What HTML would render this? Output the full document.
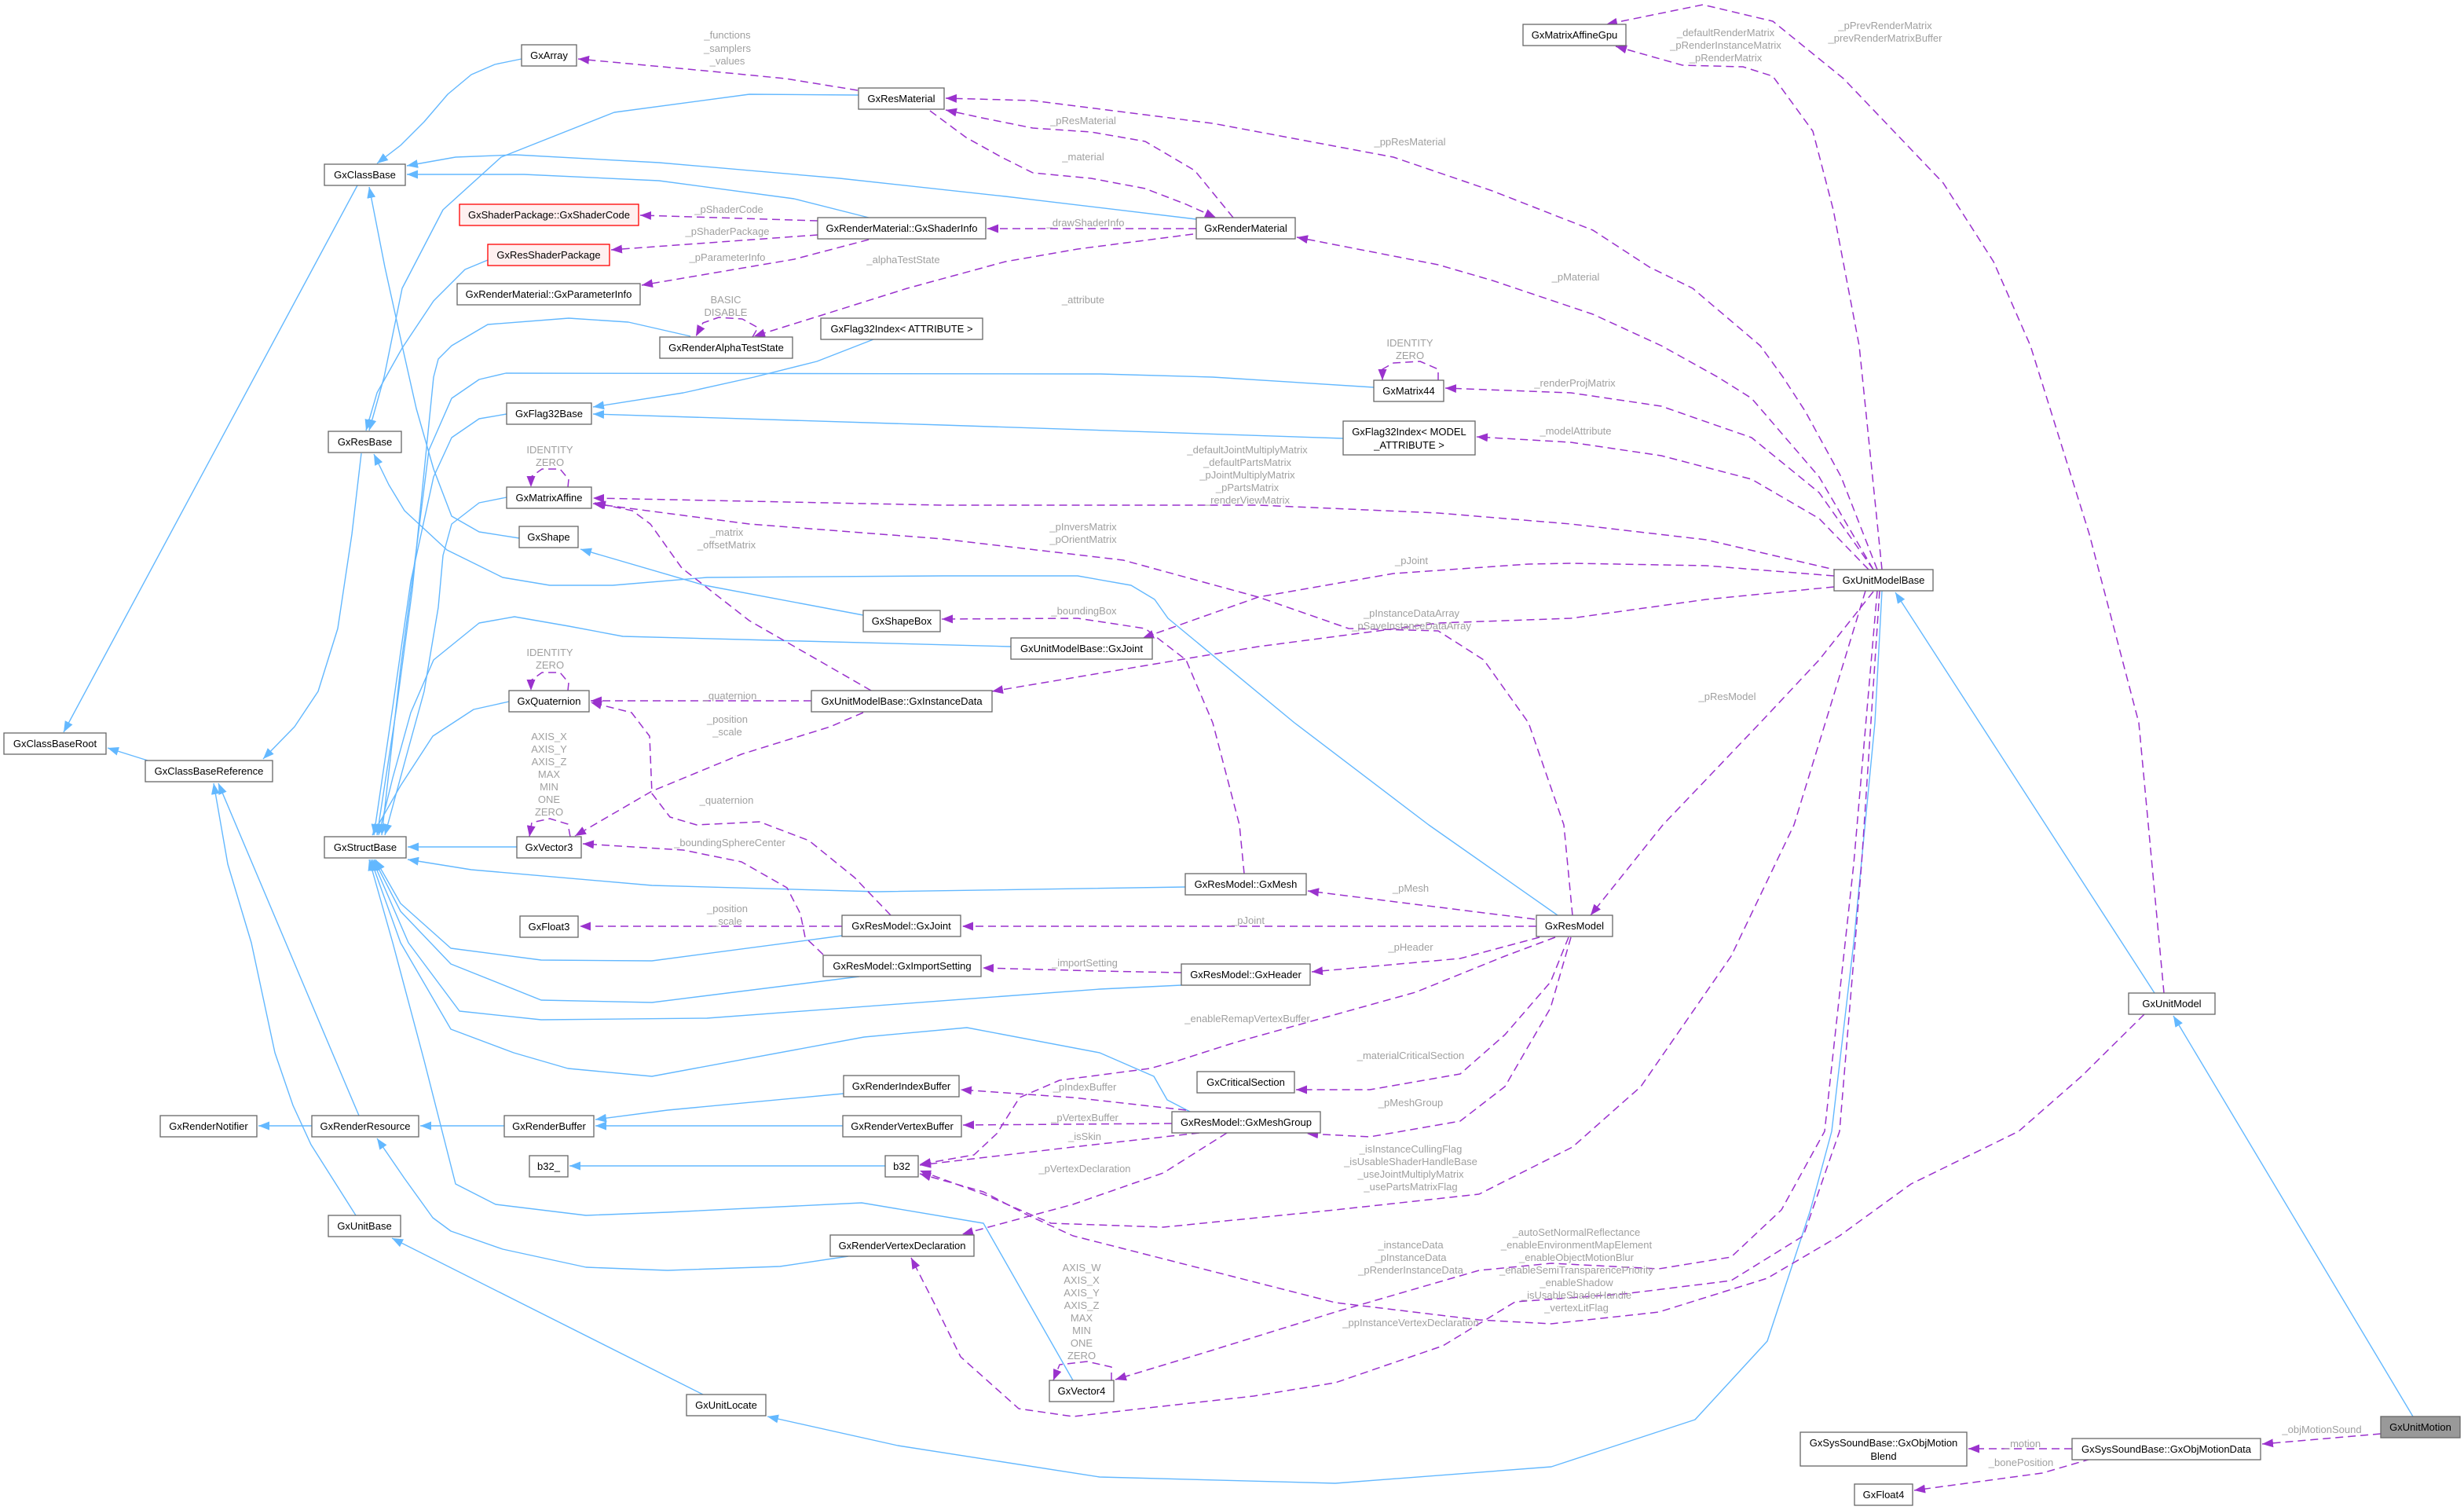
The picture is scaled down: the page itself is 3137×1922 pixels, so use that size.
<!DOCTYPE html>
<html><head><meta charset="utf-8"><style>
html,body{margin:0;padding:0;background:#fff;}
svg{display:block;}
.b{fill:none;stroke:#63b8ff;stroke-width:1.4;stroke-linejoin:round;marker-end:url(#ba);}
.p{fill:none;stroke:#9a32cd;stroke-width:1.5;stroke-dasharray:10,6;stroke-linejoin:round;marker-end:url(#pa);}
.n rect{fill:#fff;stroke:#666;stroke-width:1.3;}
.n text{font-family:"Liberation Sans",Arial,sans-serif;font-size:13px;fill:#000;text-anchor:middle;}
.l{font-family:"Liberation Sans",Arial,sans-serif;font-size:13px;fill:#a0a0a0;text-anchor:middle;}
</style></head><body>
<svg width="3137" height="1922" viewBox="0 0 3137 1922" xmlns="http://www.w3.org/2000/svg">
<defs>
<marker id="pa" markerWidth="16" markerHeight="12" refX="14" refY="5.5" orient="auto" markerUnits="userSpaceOnUse"><path d="M0,0 L14,5.5 L0,11 z" fill="#9a32cd" stroke="none"/></marker>
<marker id="ba" markerWidth="16" markerHeight="12" refX="14" refY="5.5" orient="auto" markerUnits="userSpaceOnUse"><path d="M0,0 L14,5.5 L0,11 z" fill="#63b8ff" stroke="none"/></marker>
</defs>
<rect width="3137" height="1922" fill="#fff"/>

<!-- blue inheritance edges -->
<path class="b" d="M664,75 L630,82 L600,95 L570,120 L540,155 L510,185 L480,208"/>
<path class="b" d="M1093,121 L954,120 L782,143 L638,200 L564,267 L512,367 L489,480 L470,548"/>
<path class="b" d="M621,331 L592,343 L552,383 L512,443 L480,500 L466,548"/>
<path class="b" d="M1523,279 L1280,250 L1069,227 L839,207 L656,197 L580,200 L518,211"/>
<path class="b" d="M1106,277 L1011,253 L839,230 L667,222 L518,222"/>
<path class="b" d="M661,685 L610,677 L575,657 L552,597 L530,520 L512,440 L490,340 L470,238"/>
<path class="b" d="M455,236 L81,932"/>
<path class="b" d="M188,968 L137,952"/>
<path class="b" d="M460,577 L448,680 L430,800 L405,880 L375,925 L335,966"/>
<path class="b" d="M1983,1165 L1819,1050 L1648,920 L1487,787 L1470,763 L1440,745 L1372,733 L1200,733 L900,735 L780,745 L700,745 L640,735 L569,700 L515,650 L495,617 L476,578"/>
<path class="b" d="M879,428 L800,410 L724,405 L621,413 L575,440 L558,457 L552,480 L540,600 L525,750 L505,900 L480,1063"/>
<path class="b" d="M1749,493 L1544,480 L1401,476 L644,475 L610,483 L575,507 L546,573 L530,700 L510,850 L486,1063"/>
<path class="b" d="M1112,432 L1040,460 L960,480 L870,500 L755,518"/>
<path class="b" d="M1710,558 L1200,541 L755,527"/>
<path class="b" d="M645,527 L610,533 L575,557 L552,607 L523,740 L500,900 L476,1063"/>
<path class="b" d="M645,633 L610,640 L575,667 L564,707 L558,773 L540,880 L518,960 L490,1063"/>
<path class="b" d="M1287,823 L983,815 L793,810 L724,797 L655,785 L610,793 L552,840 L523,907 L500,990 L482,1063"/>
<path class="b" d="M648,893 L603,903 L551,937 L510,1000 L474,1063"/>
<path class="b" d="M658,1078 L519,1078"/>
<path class="b" d="M1099,783 L897,745 L739,699"/>
<path class="b" d="M1509,1129 L1117,1135 L830,1127 L600,1107 L519,1094"/>
<path class="b" d="M1072,1191 L830,1223 L689,1222 L574,1207 L510,1150 L478,1094"/>
<path class="b" d="M1094,1243 L830,1276 L689,1273 L574,1227 L510,1160 L476,1094"/>
<path class="b" d="M1504,1254 L1400,1259 L900,1296 L689,1298 L585,1287 L520,1200 L474,1094"/>
<path class="b" d="M1515,1415 L1486,1400 L1469,1370 L1400,1340 L1231,1308 L1100,1320 L830,1370 L723,1360 L654,1340 L574,1310 L510,1200 L472,1094"/>
<path class="b" d="M1366,1757 L1252,1557 L1097,1531 L850,1543 L746,1547 L631,1533 L580,1507 L540,1350 L500,1200 L470,1094"/>
<path class="b" d="M453,1547 L396,1457 L373,1407 L350,1340 L320,1200 L290,1100 L272,997"/>
<path class="b" d="M457,1420 L440,1380 L278,997"/>
<path class="b" d="M397,1433 L329,1433"/>
<path class="b" d="M642,1433 L535,1433"/>
<path class="b" d="M1074,1392 L850,1413 L758,1425"/>
<path class="b" d="M1073,1433 L758,1433"/>
<path class="b" d="M1127,1484 L725,1484"/>
<path class="b" d="M1080,1599 L993,1612 L850,1617 L746,1613 L640,1590 L574,1567 L551,1550 L515,1500 L480,1449"/>
<path class="b" d="M895,1775 L499,1576"/>
<path class="b" d="M2396,752 L2387,920 L2360,1200 L2332,1440 L2305,1540 L2250,1707 L2158,1807 L1975,1867 L1700,1888 L1400,1880 L1143,1840 L977,1803"/>
<path class="b" d="M2743,1264 L2413,754"/>
<path class="b" d="M3072,1803 L2767,1293"/>

<!-- purple member edges -->
<path class="p" d="M1092,115 L1000,100 L897,90 L736,75"/>
<path class="p" d="M1041,281 L815,274"/>
<path class="p" d="M1041,299 L778,318"/>
<path class="p" d="M1106,305 L1011,330 L817,363"/>
<path class="p" d="M1519,298 L1372,317 L1280,333 L1155,367 L1050,400 L960,428"/>
<path class="p" d="M958,429 L965,417 L945,406 L915,404 L895,411 L886,428"/>
<path class="p" d="M1523,291 L1257,291"/>
<path class="p" d="M1570,277 L1521,217 L1458,180 L1389,168 L1315,163 L1250,150 L1204,140"/>
<path class="p" d="M1184,141 L1230,175 L1275,200 L1315,220 L1389,227 L1458,240 L1510,260 L1548,277"/>
<path class="p" d="M2390,725 L2344,607 L2298,523 L2270,480 L2241,440 L2155,367 L2100,340 L2028,293 L1900,243 L1774,200 L1544,157 L1315,128 L1204,125"/>
<path class="p" d="M2385,725 L2316,607 L2230,507 L2187,480 L2115,440 L2028,400 L1900,357 L1831,337 L1651,302"/>
<path class="p" d="M2396,725 L2367,440 L2334,267 L2308,167 L2257,97 L2219,85 L2142,83 L2057,59"/>
<path class="p" d="M2755,1264 L2723,920 L2660,680 L2585,440 L2538,333 L2474,233 L2347,100 L2257,27 L2168,6 L2045,31"/>
<path class="p" d="M1831,484 L1831,470 L1808,460 L1774,462 L1760,470 L1760,484"/>
<path class="p" d="M723,620 L724,610 L713,597 L690,597 L676,607 L676,620"/>
<path class="p" d="M723,879 L724,869 L713,856 L690,856 L676,866 L676,879"/>
<path class="p" d="M726,1065 L723,1049 L700,1042 L677,1047 L674,1065"/>
<path class="p" d="M1415,1757 L1415,1740 L1384,1733 L1349,1737 L1341,1757"/>
<path class="p" d="M2385,725 L2316,627 L2230,557 L2115,517 L2000,500 L1840,494"/>
<path class="p" d="M2379,725 L2316,660 L2230,610 L2115,580 L2000,563 L1880,556"/>
<path class="p" d="M2344,727 L2172,687 L2000,667 L1831,653 L1602,643 L1200,643 L954,638 L755,634"/>
<path class="p" d="M2002,1165 L1991,1050 L1946,920 L1889,840 L1831,803 L1717,800 L1602,760 L1430,713 L1200,686 L954,667 L755,641"/>
<path class="p" d="M1109,879 L954,790 L868,723 L828,667 L805,650 L757,640"/>
<path class="p" d="M2335,733 L2172,720 L2000,717 L1946,718 L1774,730 L1602,760 L1455,812"/>
<path class="p" d="M1584,1112 L1578,1050 L1544,920 L1510,840 L1458,800 L1372,787 L1199,788"/>
<path class="p" d="M2335,747 L2172,763 L2000,787 L1831,793 L1602,823 L1263,880"/>
<path class="p" d="M1033,892 L752,892"/>
<path class="p" d="M1099,907 L1057,925 L944,960 L830,1007 L732,1064"/>
<path class="p" d="M1134,1165 L1088,1117 L1030,1070 L967,1046 L887,1050 L853,1040 L830,1010 L827,937 L804,907 L752,894"/>
<path class="p" d="M1048,1215 L1025,1193 L1019,1163 L1002,1130 L944,1097 L870,1082 L742,1074"/>
<path class="p" d="M1072,1179 L738,1179"/>
<path class="p" d="M1954,1170 L1665,1134"/>
<path class="p" d="M1956,1179 L1225,1179"/>
<path class="p" d="M1504,1238 L1400,1236 L1251,1232"/>
<path class="p" d="M1960,1193 L1859,1220 L1670,1237"/>
<path class="p" d="M1980,1193 L1916,1217 L1802,1263 L1572,1327 L1500,1350 L1464,1360 L1349,1375 L1298,1397 L1269,1443 L1240,1470 L1171,1482"/>
<path class="p" d="M1997,1193 L1974,1250 L1916,1317 L1859,1367 L1744,1387 L1650,1387"/>
<path class="p" d="M2000,1193 L1974,1283 L1916,1383 L1859,1427 L1744,1447 L1664,1443"/>
<path class="p" d="M1510,1413 L1366,1397 L1223,1387"/>
<path class="p" d="M1492,1430 L1226,1432"/>
<path class="p" d="M1527,1442 L1366,1460 L1171,1483"/>
<path class="p" d="M1562,1442 L1481,1493 L1366,1533 L1225,1571"/>
<path class="p" d="M2375,752 L2330,900 L2284,1050 L2204,1217 L2089,1383 L2002,1460 L1883,1520 L1700,1540 L1481,1562 L1338,1557 L1252,1520 L1171,1490"/>
<path class="p" d="M2730,1291 L2650,1370 L2570,1440 L2433,1507 L2342,1573 L2250,1627 L2112,1670 L1975,1685 L1883,1680 L1700,1658 L1366,1573 L1309,1547 L1252,1517 L1171,1494"/>
<path class="p" d="M2390,752 L2360,1100 L2323,1440 L2268,1540 L2204,1600 L2112,1615 L1975,1608 L1883,1617 L1700,1670 L1539,1720 L1420,1756"/>
<path class="p" d="M2393,752 L2370,1100 L2342,1440 L2296,1573 L2204,1630 L2067,1647 L1929,1657 L1837,1713 L1700,1760 L1596,1777 L1453,1793 L1366,1803 L1297,1793 L1223,1727 L1190,1660 L1160,1601"/>
<path class="p" d="M2385,753 L2316,840 L2241,920 L2117,1050 L2025,1165"/>
<path class="p" d="M3031,1825 L2880,1838"/>
<path class="p" d="M2638,1844 L2506,1844"/>
<path class="p" d="M2662,1857 L2600,1875 L2437,1897"/>

<!-- nodes -->
<g class="n">
<rect x="1939" y="31" width="131" height="27"/><text x="2004.5" y="49">GxMatrixAffineGpu</text>
<rect x="664" y="57" width="70" height="27"/><text x="699" y="75">GxArray</text>
<rect x="1093" y="112" width="109" height="27"/><text x="1147.5" y="130">GxResMaterial</text>
<rect x="413" y="209" width="103" height="27"/><text x="464.5" y="227">GxClassBase</text>
<rect x="585" y="260" width="228" height="27" style="fill:#fff0f0;stroke:#ff0000"/><text x="699" y="278">GxShaderPackage::GxShaderCode</text>
<rect x="1041" y="277" width="214" height="27"/><text x="1148" y="295">GxRenderMaterial::GxShaderInfo</text>
<rect x="1523" y="277" width="126" height="27"/><text x="1586" y="295">GxRenderMaterial</text>
<rect x="621" y="311" width="155" height="27" style="fill:#fff0f0;stroke:#ff0000"/><text x="698.5" y="329">GxResShaderPackage</text>
<rect x="582" y="361" width="233" height="27"/><text x="698.5" y="379">GxRenderMaterial::GxParameterInfo</text>
<rect x="840" y="429" width="169" height="27"/><text x="924.5" y="447">GxRenderAlphaTestState</text>
<rect x="1045" y="405" width="206" height="27"/><text x="1148" y="423">GxFlag32Index&lt; ATTRIBUTE &gt;</text>
<rect x="1749" y="484" width="89" height="27"/><text x="1793.5" y="502">GxMatrix44</text>
<rect x="645" y="513" width="108" height="27"/><text x="699" y="531">GxFlag32Base</text>
<rect x="1710" y="536" width="168" height="43"/><text x="1794" y="554">GxFlag32Index&lt; MODEL</text><text x="1794" y="571">_ATTRIBUTE &gt;</text>
<rect x="418" y="549" width="93" height="27"/><text x="464.5" y="567">GxResBase</text>
<rect x="645" y="620" width="108" height="27"/><text x="699" y="638">GxMatrixAffine</text>
<rect x="661" y="670" width="75" height="27"/><text x="698.5" y="688">GxShape</text>
<rect x="2335" y="725" width="126" height="27"/><text x="2398" y="743">GxUnitModelBase</text>
<rect x="1099" y="777" width="98" height="27"/><text x="1148" y="795">GxShapeBox</text>
<rect x="1287" y="812" width="180" height="27"/><text x="1377" y="830">GxUnitModelBase::GxJoint</text>
<rect x="648" y="879" width="102" height="27"/><text x="699" y="897">GxQuaternion</text>
<rect x="1033" y="879" width="230" height="27"/><text x="1148" y="897">GxUnitModelBase::GxInstanceData</text>
<rect x="5" y="933" width="130" height="27"/><text x="70" y="951">GxClassBaseRoot</text>
<rect x="185" y="968" width="162" height="27"/><text x="266" y="986">GxClassBaseReference</text>
<rect x="413" y="1065" width="104" height="27"/><text x="465" y="1083">GxStructBase</text>
<rect x="658" y="1065" width="82" height="27"/><text x="699" y="1083">GxVector3</text>
<rect x="1509" y="1112" width="154" height="27"/><text x="1586" y="1130">GxResModel::GxMesh</text>
<rect x="1956" y="1165" width="97" height="27"/><text x="2004.5" y="1183">GxResModel</text>
<rect x="662" y="1166" width="74" height="27"/><text x="699" y="1184">GxFloat3</text>
<rect x="1072" y="1165" width="151" height="27"/><text x="1147.5" y="1183">GxResModel::GxJoint</text>
<rect x="1048" y="1216" width="201" height="27"/><text x="1148.5" y="1234">GxResModel::GxImportSetting</text>
<rect x="1504" y="1227" width="164" height="27"/><text x="1586" y="1245">GxResModel::GxHeader</text>
<rect x="2710" y="1264" width="110" height="27"/><text x="2765" y="1282">GxUnitModel</text>
<rect x="1524" y="1364" width="124" height="27"/><text x="1586" y="1382">GxCriticalSection</text>
<rect x="1074" y="1369" width="147" height="27"/><text x="1147.5" y="1387">GxRenderIndexBuffer</text>
<rect x="204" y="1420" width="123" height="27"/><text x="265.5" y="1438">GxRenderNotifier</text>
<rect x="397" y="1420" width="136" height="27"/><text x="465" y="1438">GxRenderResource</text>
<rect x="642" y="1420" width="114" height="27"/><text x="699" y="1438">GxRenderBuffer</text>
<rect x="1073" y="1420" width="151" height="27"/><text x="1148.5" y="1438">GxRenderVertexBuffer</text>
<rect x="1492" y="1415" width="189" height="27"/><text x="1586.5" y="1433">GxResModel::GxMeshGroup</text>
<rect x="674" y="1471" width="49" height="27"/><text x="698.5" y="1489">b32_</text>
<rect x="1127" y="1471" width="42" height="27"/><text x="1148" y="1489">b32</text>
<rect x="418" y="1547" width="92" height="27"/><text x="464" y="1565">GxUnitBase</text>
<rect x="1057" y="1572" width="183" height="27"/><text x="1148.5" y="1590">GxRenderVertexDeclaration</text>
<rect x="1336" y="1757" width="82" height="27"/><text x="1377" y="1775">GxVector4</text>
<rect x="874" y="1775" width="101" height="27"/><text x="924.5" y="1793">GxUnitLocate</text>
<rect x="3031" y="1803" width="101" height="27" style="fill:#999"/><text x="3081.5" y="1821">GxUnitMotion</text>
<rect x="2292" y="1823" width="212" height="43"/><text x="2398" y="1841">GxSysSoundBase::GxObjMotion</text><text x="2398" y="1858">Blend</text>
<rect x="2638" y="1831" width="240" height="27"/><text x="2758" y="1849">GxSysSoundBase::GxObjMotionData</text>
<rect x="2361" y="1889" width="74" height="27"/><text x="2398" y="1907">GxFloat4</text>
</g>

<!-- edge labels -->
<g class="l">
<text x="926" y="49">_functions</text><text x="926" y="66">_samplers</text><text x="926" y="82">_values</text>
<text x="928" y="271">_pShaderCode</text>
<text x="926" y="299">_pShaderPackage</text>
<text x="926" y="332">_pParameterInfo</text>
<text x="1150" y="335">_alphaTestState</text>
<text x="924" y="386">BASIC</text><text x="924" y="402">DISABLE</text>
<text x="1379" y="158">_pResMaterial</text>
<text x="1379" y="204">_material</text>
<text x="1795" y="185">_ppResMaterial</text>
<text x="1382" y="288">_drawShaderInfo</text>
<text x="2006" y="357">_pMaterial</text>
<text x="1379" y="386">_attribute</text>
<text x="1795" y="441">IDENTITY</text><text x="1795" y="457">ZERO</text>
<text x="2197" y="46">_defaultRenderMatrix</text><text x="2197" y="62">_pRenderInstanceMatrix</text><text x="2197" y="78">_pRenderMatrix</text>
<text x="2400" y="37">_pPrevRenderMatrix</text><text x="2400" y="53">_prevRenderMatrixBuffer</text>
<text x="700" y="577">IDENTITY</text><text x="700" y="593">ZERO</text>
<text x="925" y="682">_matrix</text><text x="925" y="698">_offsetMatrix</text>
<text x="700" y="835">IDENTITY</text><text x="700" y="851">ZERO</text>
<text x="929" y="890">_quaternion</text>
<text x="926" y="920">_position</text><text x="926" y="936">_scale</text>
<text x="2005" y="492">_renderProjMatrix</text>
<text x="2006" y="553">_modelAttribute</text>
<text x="1588" y="577">_defaultJointMultiplyMatrix</text><text x="1588" y="593">_defaultPartsMatrix</text><text x="1588" y="609">_pJointMultiplyMatrix</text><text x="1588" y="625">_pPartsMatrix</text><text x="1588" y="641">_renderViewMatrix</text>
<text x="1379" y="675">_pInversMatrix</text><text x="1379" y="691">_pOrientMatrix</text>
<text x="1797" y="718">_pJoint</text>
<text x="1380" y="782">_boundingBox</text>
<text x="1797" y="785">_pInstanceDataArray</text><text x="1797" y="801">_pSaveInstanceDataArray</text>
<text x="2199" y="891">_pResModel</text>
<text x="699" y="942">AXIS_X</text><text x="699" y="958">AXIS_Y</text><text x="699" y="974">AXIS_Z</text><text x="699" y="990">MAX</text><text x="699" y="1006">MIN</text><text x="699" y="1022">ONE</text><text x="699" y="1038">ZERO</text>
<text x="925" y="1023">_quaternion</text>
<text x="929" y="1077">_boundingSphereCenter</text>
<text x="926" y="1161">_position</text><text x="926" y="1177">_scale</text>
<text x="1381" y="1230">_importSetting</text>
<text x="1796" y="1135">_pMesh</text>
<text x="1589" y="1176">_pJoint</text>
<text x="1796" y="1210">_pHeader</text>
<text x="1588" y="1301">_enableRemapVertexBuffer</text>
<text x="1796" y="1348">_materialCriticalSection</text>
<text x="1796" y="1408">_pMeshGroup</text>
<text x="1796" y="1467">_isInstanceCullingFlag</text><text x="1796" y="1483">_isUsableShaderHandleBase</text><text x="1796" y="1499">_useJointMultiplyMatrix</text><text x="1796" y="1515">_usePartsMatrixFlag</text>
<text x="1381" y="1388">_pIndexBuffer</text>
<text x="1381" y="1427">_pVertexBuffer</text>
<text x="1381" y="1451">_isSkin</text>
<text x="1381" y="1492">_pVertexDeclaration</text>
<text x="1377" y="1618">AXIS_W</text><text x="1377" y="1634">AXIS_X</text><text x="1377" y="1650">AXIS_Y</text><text x="1377" y="1666">AXIS_Z</text><text x="1377" y="1682">MAX</text><text x="1377" y="1698">MIN</text><text x="1377" y="1714">ONE</text><text x="1377" y="1730">ZERO</text>
<text x="2007" y="1573">_autoSetNormalReflectance</text><text x="2007" y="1589">_enableEnvironmentMapElement</text><text x="2007" y="1605">_enableObjectMotionBlur</text><text x="2007" y="1621">_enableSemiTransparencePriority</text><text x="2007" y="1637">_enableShadow</text><text x="2007" y="1653">_isUsableShaderHandle</text><text x="2007" y="1669">_vertexLitFlag</text>
<text x="1796" y="1589">_instanceData</text><text x="1796" y="1605">_pInstanceData</text><text x="1796" y="1621">_pRenderInstanceData</text>
<text x="1796" y="1688">_ppInstanceVertexDeclaration</text>
<text x="2956" y="1824">_objMotionSound</text>
<text x="2575" y="1842">_motion</text>
<text x="2573" y="1866">_bonePosition</text>
</g>
</svg>
</body></html>
